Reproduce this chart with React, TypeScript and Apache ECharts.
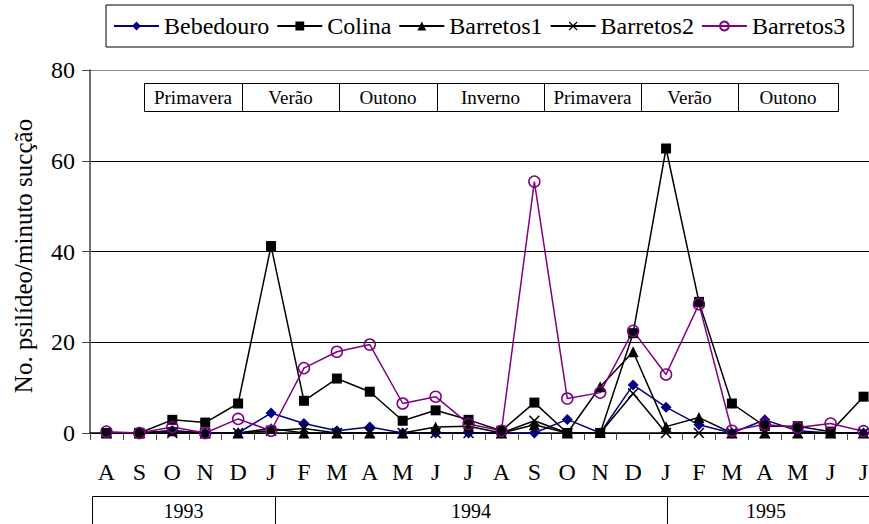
import React, { useEffect, useRef } from "react";
import * as echarts from "echarts";

const months = ["A", "S", "O", "N", "D", "J", "F", "M", "A", "M", "J", "J", "A", "S", "O", "N", "D", "J", "F", "M", "A", "M", "J", "J"];
const bebedouro = [0, 0, 0.5, 0, 0, 4.4, 2.1, 0.5, 1.3, 0, 0, 0, 0, 0, 3.0, 0, 10.6, 5.7, 1.8, 0, 2.9, 0.5, 0, 0];
const colina = [0, 0, 2.9, 2.3, 6.5, 41.2, 7.1, 12.0, 9.1, 2.7, 5.0, 2.9, 0.5, 6.7, 0, 0, 22.0, 62.7, 28.9, 6.5, 1.5, 1.5, 0.3, 8.0];
const barretos1 = [0, 0, 0.5, 0, 0, 1.0, 0, 0, 0, 0, 1.3, 1.5, 0, 1.8, 0, 10.2, 17.9, 1.4, 3.4, 0, 0, 0, 0, 0];
const barretos2 = [0, 0, 0, 0, 0, 0.5, 1.0, 0, 0, 0, 0, 0, 0, 2.7, 0, 0, 8.7, 0, 0, 0, 0, 0, 0, 0];
const barretos3 = [0.3, 0, 1.3, 0, 3.1, 0.5, 14.3, 17.9, 19.5, 6.5, 8.0, 2.0, 0.5, 55.4, 7.6, 8.9, 22.5, 12.9, 28.4, 0.5, 1.9, 1.2, 2.1, 0.4];
const seasons = ["Primavera", "Verão", "Outono", "Inverno", "Primavera", "Verão", "Outono"];
const years = ["1993", "1994", "1995"];
const yTicks = [0, 20, 40, 60, 80];
const yTitle = "No. psilídeo/minuto sucção";

const FF = "Liberation Serif";
const seasonEdges = [144, 242, 339, 437, 544, 641, 738, 838];
const yearEdges = [92, 275, 667, 880];

const crossPath = "path://M0,1L1,0L5,4L9,0L10,1L6,5L10,9L9,10L5,6L1,10L0,9L4,5Z";

export default function App() {
  const ref = useRef<HTMLDivElement>(null);
  useEffect(() => {
    if (!ref.current) return;
    const chart = echarts.init(ref.current, undefined, { renderer: "svg" });

    const graphics: any[] = [];
    seasons.forEach((s, i) => {
      const x0 = seasonEdges[i];
      const x1 = seasonEdges[i + 1];
      graphics.push({
        type: "rect",
        shape: { x: x0 + 0.5, y: 83.5, width: x1 - x0, height: 28 },
        style: { fill: "#fff", stroke: "#000", lineWidth: 1 },
        z: 10,
      });
      graphics.push({
        type: "text",
        x: (x0 + x1) / 2,
        y: 97.5,
        style: { text: s, fontFamily: FF, fontSize: 19, fill: "#000", align: "center", verticalAlign: "middle" },
        z: 11,
      });
    });
    years.forEach((yr, i) => {
      const x0 = yearEdges[i];
      const x1 = yearEdges[i + 1];
      graphics.push({
        type: "rect",
        shape: { x: x0 + 0.5, y: 496.5, width: x1 - x0, height: 40 },
        style: { fill: "#fff", stroke: "#000", lineWidth: 1 },
        z: 10,
      });
      graphics.push({
        type: "text",
        x: i === 2 ? 766 : (x0 + x1) / 2,
        y: 511,
        style: { text: yr, fontFamily: FF, fontSize: 20, fill: "#000", align: "center", verticalAlign: "middle" },
        z: 11,
      });
    });
    graphics.push({
      type: "text",
      x: 23,
      y: 256,
      rotation: Math.PI / 2,
      style: {
        text: yTitle,
        fontFamily: FF,
        fontSize: 25,
        fill: "#000",
        align: "center",
        verticalAlign: "middle",
      },
    });

    const common = { type: "line", showSymbol: true };

    chart.setOption({
      animation: false,
      backgroundColor: "#fff",
      textStyle: { fontFamily: FF },
      legend: {
        left: 106,
        top: 5,
        padding: [9, 8, 9, 7],
        borderColor: "#000",
        borderWidth: 1,
        itemWidth: 45,
        itemHeight: 11,
        itemGap: 7,
        textStyle: { fontFamily: FF, fontSize: 24, color: "#000" },
        data: ["Bebedouro", "Colina", "Barretos1", "Barretos2", "Barretos3"],
      },
      grid: { left: 90, right: 0, top: 70, bottom: 91 },
      xAxis: {
        type: "category",
        data: months,
        boundaryGap: true,
        axisLine: { lineStyle: { color: "#000", width: 1.5 } },
        axisTick: { show: true, length: 7, lineStyle: { color: "#444" } },
        axisLabel: { fontFamily: FF, fontSize: 24, color: "#000", margin: 27 },
      },
      yAxis: {
        type: "value",
        min: yTicks[0],
        max: yTicks[yTicks.length - 1],
        interval: 20,
        axisLine: { show: true, lineStyle: { color: "#444", width: 1.5 } },
        axisTick: { show: true, length: 8, lineStyle: { color: "#444" } },
        axisLabel: { fontFamily: FF, fontSize: 24, color: "#000", margin: 15 },
        splitLine: { show: true, lineStyle: { color: ["#000", "#000", "#000", "#000", "#888"], width: 1 } },
      },
      graphic: graphics,
      series: [
        {
          ...common,
          name: "Bebedouro",
          data: bebedouro,
          symbol: "diamond",
          symbolSize: 11,
          itemStyle: { color: "#000080" },
          lineStyle: { width: 1.5, color: "#000080" },
        },
        {
          ...common,
          name: "Colina",
          data: colina,
          symbol: "rect",
          symbolSize: 10,
          itemStyle: { color: "#000" },
          lineStyle: { width: 1.5, color: "#000" },
        },
        {
          ...common,
          name: "Barretos1",
          data: barretos1,
          symbol: "triangle",
          symbolSize: 11,
          itemStyle: { color: "#000" },
          lineStyle: { width: 1.5, color: "#000" },
        },
        {
          ...common,
          name: "Barretos2",
          data: barretos2,
          symbol: crossPath,
          symbolSize: 11,
          itemStyle: { color: "#000" },
          lineStyle: { width: 1.5, color: "#000" },
        },
        {
          ...common,
          name: "Barretos3",
          data: barretos3,
          symbol: "circle",
          symbolSize: 11,
          itemStyle: { color: "rgba(255,255,255,0)", borderColor: "#800080", borderWidth: 1.5 },
          lineStyle: { width: 1.5, color: "#800080" },
        },
      ],
    });
    return () => chart.dispose();
  }, []);
  return (
    <div style={{ position: "fixed", left: 0, top: 0, width: 869, height: 524, overflow: "hidden" }}>
      <div ref={ref} style={{ position: "absolute", left: 0, top: 0, width: 880, height: 524 }} />
    </div>
  );
}
